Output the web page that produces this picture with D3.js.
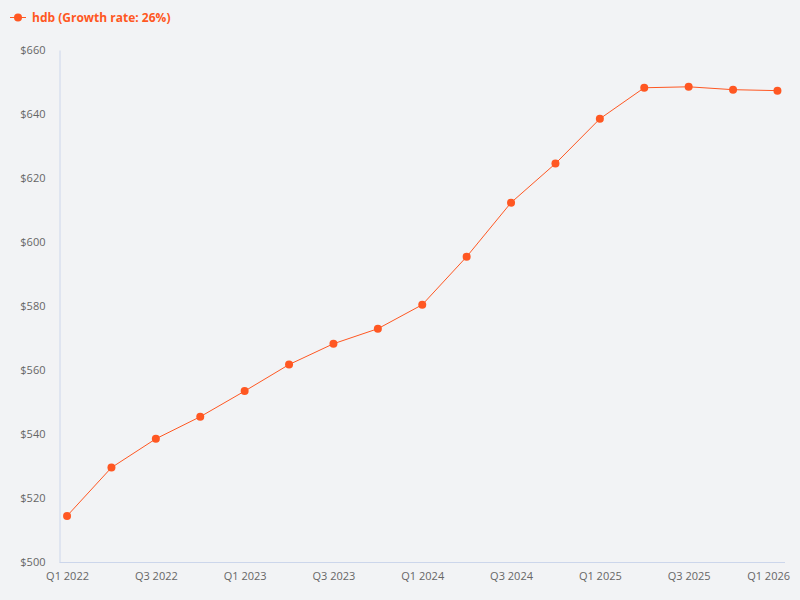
<!DOCTYPE html>
<html><head><meta charset="utf-8">
<script src="https://cdn.jsdelivr.net/npm/d3@7"></script>
<style>
html,body{margin:0;padding:0;background:#f2f3f5;}
svg{display:block;font-family:"Open Sans","Noto Sans",sans-serif;}
</style></head>
<body><svg id="chart" width="800" height="600"></svg>
<script>
const categories = ["Q1 2022","Q2 2022","Q3 2022","Q4 2022","Q1 2023","Q2 2023","Q3 2023","Q4 2023","Q1 2024","Q2 2024","Q3 2024","Q4 2024","Q1 2025","Q2 2025","Q3 2025","Q4 2025","Q1 2026"];
const values = [514.4,529.5,538.5,545.4,553.4,561.7,568.2,572.9,580.4,595.4,612.3,624.5,638.5,648.2,648.5,647.6,647.3];
const yTicks = [500,520,540,560,580,600,620,640,660];
const seriesName = "hdb (Growth rate: 26%)";
const color = "#ff5722";

(function(){
const font = '"Open Sans","Noto Sans",sans-serif';
const svg = d3.select("#chart");
svg.append("rect").attr("width",800).attr("height",600).attr("fill","#f2f3f5");
const mLeft = 59.5, mRight = 785, mTop = 50, mBottom = 562;
const x = d3.scalePoint().domain(categories).range([mLeft, mRight]).padding(0.17);
const y = d3.scaleLinear().domain([500,660]).range([mBottom, mTop]);

// y axis
const yAxis = svg.append("g").attr("transform",`translate(${mLeft},0)`)
  .call(d3.axisLeft(y).tickValues(yTicks).tickSize(0).tickPadding(14).tickFormat(d=>"$"+d))
  .attr("font-family",font).attr("font-size",11);
yAxis.select(".domain").attr("stroke","#ccd6eb");
yAxis.selectAll("text").attr("fill","#666");

// x axis
const xAxis = svg.append("g").attr("transform",`translate(0,${mBottom})`)
  .call(d3.axisBottom(x).tickValues(categories.filter((d,i)=>i%2===0)).tickSize(0).tickPadding(10))
  .attr("font-family",font).attr("font-size",11);
xAxis.select(".domain").attr("stroke","#ccd6eb").attr("d",`M${mLeft},0.5H${mRight}`);
xAxis.selectAll("text").attr("fill","#666");
// keep labels inside the chart area (justify overflow)
xAxis.selectAll(".tick").each(function(){
  const t = d3.select(this).select("text");
  const tr = d3.select(this).attr("transform");
  const tx = +tr.match(/translate\(([-\d.]+)/)[1];
  const w = t.node().getComputedTextLength();
  if (tx + w/2 > 790) t.attr("text-anchor","end").attr("x", 790 - tx);
});

// line
const line = d3.line().x((d,i)=>x(categories[i])).y(d=>y(d));
svg.append("path").datum(values).attr("d",line).attr("fill","none").attr("stroke",color).attr("stroke-width",1);
svg.selectAll("circle.pt").data(values).enter().append("circle").attr("class","pt")
  .attr("cx",(d,i)=>x(categories[i])).attr("cy",d=>y(d)).attr("r",4).attr("fill",color);

// legend
const lg = svg.append("g");
lg.append("line").attr("x1",10).attr("x2",26).attr("y1",17.5).attr("y2",17.5).attr("stroke",color).attr("stroke-width",1);
lg.append("circle").attr("cx",18).attr("cy",17.5).attr("r",4).attr("fill",color);
lg.append("text").attr("x",32).attr("y",22).attr("fill",color).attr("font-family",font).style("font-size","12px").style("font-weight","bold").text(seriesName);
})();
</script></body></html>
